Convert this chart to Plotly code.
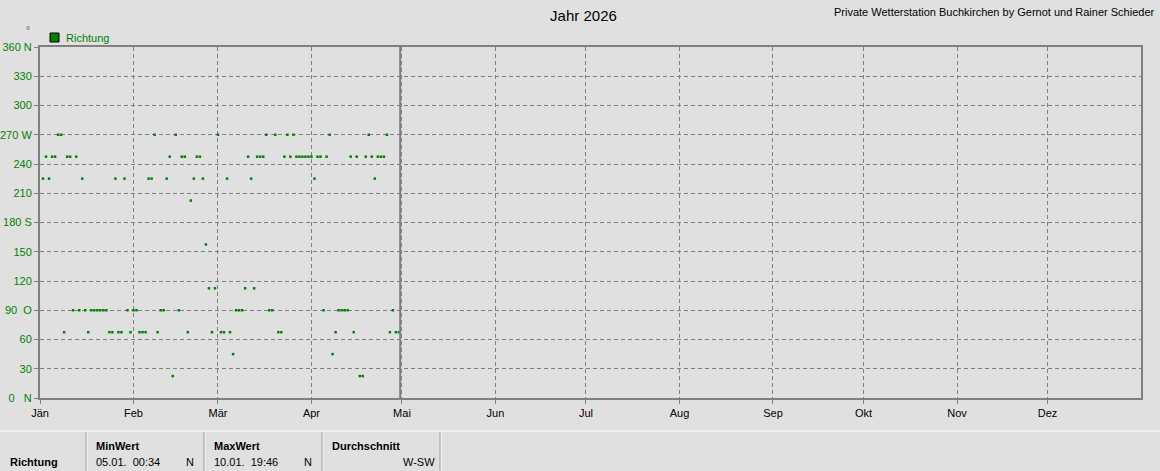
import plotly.graph_objects as go

# ---------------- data ----------------
YEAR = "2026"
levels = [270, 247.5, 225, 202.5, 157.5, 112.5, 90, 67.5, 45, 22.5]
dates_270 = ["01-07", "01-08", "02-08", "02-15", "03-01", "03-17", "03-20", "03-24", "03-26", "04-07", "04-20", "04-26"]
dates_2475 = ["01-03", "01-05", "01-06", "01-10", "01-11", "01-13", "02-13", "02-17", "02-18", "02-22", "02-23",
              "03-11", "03-14", "03-15", "03-16", "03-23", "03-25", "03-27", "03-28", "03-29", "03-30", "03-31",
              "04-01", "04-03", "04-04", "04-06", "04-14", "04-16", "04-19", "04-21", "04-23", "04-24", "04-25"]
dates_225 = ["01-02", "01-04", "01-15", "01-26", "01-29", "02-06", "02-07", "02-12", "02-21", "02-24", "03-04",
             "03-12", "04-02", "04-22"]
dates_2025 = ["02-20"]
dates_1575 = ["02-25"]
dates_1125 = ["02-26", "02-28", "03-10", "03-13"]
dates_90 = ["01-12", "01-14", "01-16", "01-18", "01-19", "01-20", "01-21", "01-22", "01-23", "01-30", "02-01",
            "02-02", "02-10", "02-11", "02-16", "03-07", "03-08", "03-09", "03-18", "03-19", "04-05", "04-10",
            "04-11", "04-12", "04-13", "04-28"]
dates_675 = ["01-09", "01-17", "01-24", "01-25", "01-27", "01-28", "01-31", "02-03", "02-04", "02-05", "02-09",
             "02-19", "02-27", "03-02", "03-03", "03-05", "03-21", "03-22", "04-09", "04-15", "04-27", "04-29",
             "04-30"]
dates_45 = ["03-06", "04-08"]
dates_225b = ["02-14", "04-17", "04-18"]
level_dates = [dates_270, dates_2475, dates_225, dates_2025, dates_1575, dates_1125, dates_90, dates_675,
               dates_45, dates_225b]

current_time = "2026-04-30 10:00"

month_starts = ["01-01", "02-01", "03-01", "04-01", "05-01", "06-01", "07-01", "08-01", "09-01", "10-01",
                "11-01", "12-01"]
month_labels = ["Jän", "Feb", "Mär", "Apr", "Mai", "Jun", "Jul", "Aug", "Sep", "Okt", "Nov", "Dez"]
y_ticks = [0, 30, 60, 90, 120, 150, 180, 210, 240, 270, 300, 330, 360]
y_labels = ["0\u00a0\u00a0\u00a0N", "30", "60", "90\u00a0\u00a0O", "120", "150", "180 S", "210", "240",
            "270 W", "300", "330", "360 N"]

title_text = "Jahr 2026"
credit_text = "Private Wetterstation Buchkirchen by Gernot und Rainer Schieder"
series_name = "Richtung"
table_min_date, table_min_dir = "05.01.\u00a0\u00a000:34", "N"
table_max_date, table_max_dir = "10.01.\u00a0\u00a019:46", "N"
table_avg = "W-SW"

# ---------------- figure ----------------
W, H = 1160, 471
L, R, T, B = 40, 19, 47, 73
PW, PH = W - L - R, H - T - B
GREEN = "#008000"
GRAY = "#808080"
BG = "#e0e0e0"
FONT = "Liberation Sans, Arial, sans-serif"
DASH = "4px,3px"


def px(x):
    return (x - L) / PW


def py(y):
    return (H - B - y) / PH


xs, ys = [], []
for lv, ds in zip(levels, level_dates):
    for d in ds:
        xs.append(f"{YEAR}-{d}")
        ys.append(lv)

fig = go.Figure()
fig.add_trace(go.Scatter(
    x=xs, y=ys, mode="markers", name=series_name,
    marker=dict(symbol="square", size=2.5, color=GREEN, line=dict(width=0)),
    showlegend=False, hoverinfo="x+y",
))

fig.update_layout(
    width=W, height=H,
    margin=dict(l=L, r=R, t=T, b=B, pad=0, autoexpand=False),
    paper_bgcolor=BG, plot_bgcolor=BG,
    font=dict(family=FONT, size=11, color="black"),
    showlegend=False,
    title=dict(text=title_text, x=0.503, xref="container", xanchor="center",
               y=1 - 16 / H, yref="container", yanchor="middle",
               font=dict(size=15, color="black", family=FONT)),
    xaxis=dict(
        type="date", range=[f"{YEAR}-01-01", "2027-01-01"], automargin=False,
        tickmode="array", tickvals=[f"{YEAR}-{m}" for m in month_starts], ticktext=month_labels,
        ticks="outside", ticklen=4, tickcolor=GRAY, tickwidth=1,
        showgrid=True, gridcolor=GRAY, gridwidth=1, griddash=DASH,
        showline=True, linecolor=GRAY, linewidth=2, mirror=True,
        zeroline=False, tickfont=dict(size=11, color="black"),
    ),
    yaxis=dict(
        range=[0, 360], tickmode="array", tickvals=y_ticks, ticktext=y_labels, automargin=False,
        ticks="outside", ticklen=4, tickcolor=GRAY, tickwidth=1,
        showgrid=True, gridcolor=GRAY, gridwidth=1, griddash=DASH,
        showline=True, linecolor=GRAY, linewidth=2, mirror=True,
        zeroline=False, tickfont=dict(size=11, color=GREEN),
    ),
)

shapes = []
# current-time marker
shapes.append(dict(type="line", xref="x", yref="paper", x0=current_time, x1=current_time, y0=0, y1=1,
                   line=dict(color=GRAY, width=2)))
# legend square
shapes.append(dict(type="rect", xref="paper", yref="paper", x0=px(50), x1=px(59), y0=py(42), y1=py(33),
                   fillcolor=GREEN, line=dict(color="black", width=1)))
# bottom table lines
shapes.append(dict(type="line", xref="paper", yref="paper", x0=px(0), x1=px(W), y0=py(431), y1=py(431),
                   line=dict(color="white", width=1)))
for sx in [87, 205, 323, 441]:
    shapes.append(dict(type="line", xref="paper", yref="paper", x0=px(sx), x1=px(sx), y0=py(432), y1=py(H),
                       line=dict(color="white", width=1)))
    shapes.append(dict(type="line", xref="paper", yref="paper", x0=px(sx - 1), x1=px(sx - 1), y0=py(432),
                       y1=py(H), line=dict(color="#a0a0a0", width=1)))
fig.update_layout(shapes=shapes)

ann = []


def text(x, y, s, anchor="left", size=11, color="black", bold=False):
    ann.append(dict(xref="paper", yref="paper", x=px(x), y=py(y), text=f"<b>{s}</b>" if bold else s,
                    showarrow=False, xanchor=anchor, yanchor="middle",
                    font=dict(size=size, color=color, family=FONT)))


text(64, 38, series_name, color=GREEN)
text(28, 30, "°", anchor="center", size=10, color=GREEN)
text(1157, 12, credit_text, anchor="right", size=11)
text(8, 462, series_name, bold=True)
text(94, 446, "MinWert", bold=True)
text(94, 462, table_min_date)
text(196, 462, table_min_dir, anchor="right")
text(212, 446, "MaxWert", bold=True)
text(212, 462, table_max_date)
text(314, 462, table_max_dir, anchor="right")
text(330, 446, "Durchschnitt", bold=True)
text(437, 462, table_avg, anchor="right")
fig.update_layout(annotations=ann)

fig.write_html("out.html", config={"displayModeBar": False},
               post_script="document.body.style.margin='0';document.body.style.background='#e0e0e0';")
